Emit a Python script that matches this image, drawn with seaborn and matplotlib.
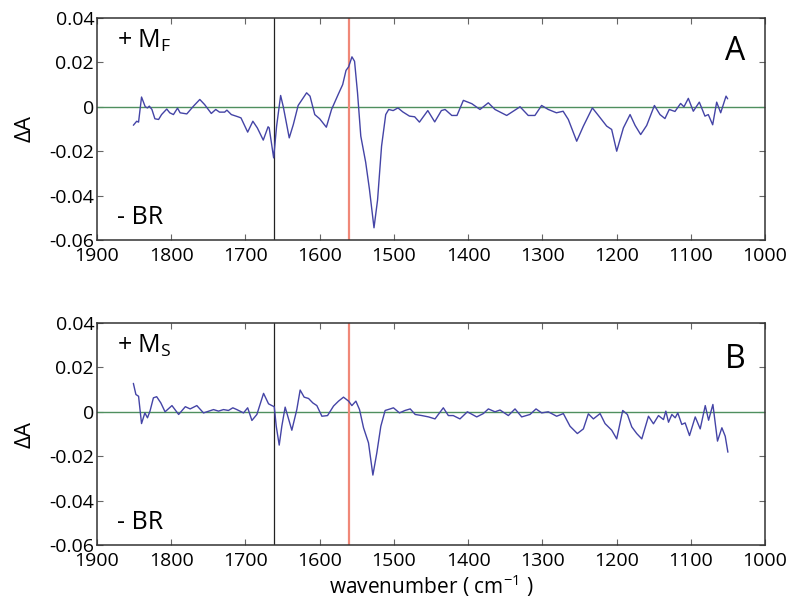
import numpy as np
import pandas as pd
import matplotlib
matplotlib.use("Agg")
import matplotlib.pyplot as plt
import seaborn as sns

# ---------------- data ----------------
wn_a = [1851, 1846.5, 1844, 1840, 1835, 1832, 1829.5, 1826, 1822, 1817, 1813, 1806, 1802,
        1797, 1791.5, 1788, 1779, 1770, 1761.5, 1755, 1746, 1740, 1735, 1728, 1725, 1719,
        1710, 1706, 1697, 1690, 1684, 1676, 1669.5, 1668, 1662, 1658, 1652.6, 1649, 1641,
        1635.5, 1629, 1617.6, 1613, 1606.6, 1600, 1591, 1584, 1575, 1569, 1564.5, 1561,
        1556.5, 1553, 1549, 1544.6, 1538, 1533, 1526.8, 1522, 1516.6, 1511, 1507, 1501,
        1494.5, 1488, 1479, 1472, 1465.6, 1454.3, 1445, 1436, 1431, 1422, 1415, 1406.4,
        1395, 1384, 1372.8, 1363.8, 1348, 1330, 1319, 1310, 1301, 1292, 1281, 1272, 1265,
        1253.7, 1244.7, 1232.6, 1224.5, 1213.3, 1206.6, 1199.8, 1190.8, 1181.8, 1175,
        1167.5, 1159.4, 1149, 1141.5, 1134.8, 1129, 1121.3, 1113.7, 1109.2, 1103.3, 1096.6,
        1088.5, 1080.9, 1076.4, 1070.5, 1065.1, 1059.7, 1052.5, 1050.3]
da_a = [-0.0083, -0.0065, -0.0069, 0.0044, 0.0, -0.0005, 0.0003, -0.0012, -0.0054, -0.0057,
        -0.0035, -0.0010, -0.0027, -0.0035, -0.0006, -0.0027, -0.0032, 0.0003, 0.0033, 0.0010,
        -0.0030, -0.0012, -0.0024, -0.0024, -0.0015, -0.0035, -0.0045, -0.0050, -0.0114,
        -0.0065, -0.0095, -0.0150, -0.0090, -0.0095, -0.0230, -0.0087, 0.0051, 0.0, -0.0140,
        -0.0080, 0.0006, 0.0063, 0.0048, -0.0035, -0.0054, -0.0092, -0.0012, 0.0056, 0.0100,
        0.0164, 0.0180, 0.0225, 0.0205, 0.0063, -0.0132, -0.0250, -0.0370, -0.0545, -0.0420,
        -0.0177, -0.0035, -0.0012, -0.0017, -0.0005, -0.0023, -0.0042, -0.0045, -0.0069,
        -0.0017, -0.0068, -0.0017, -0.0012, -0.0039, -0.0039, 0.0029, 0.0014, -0.0012, 0.0018,
        -0.0012, -0.0039, 0.0, -0.0039, -0.0039, 0.0006, -0.0012, -0.0027, -0.0020, -0.0057,
        -0.0155, -0.0087, -0.0005, -0.0039, -0.0087, -0.0102, -0.0200, -0.0095, -0.0035,
        -0.0084, -0.0125, -0.0084, 0.0006, -0.0035, -0.0053, -0.0012, -0.0021, 0.0015, 0.0,
        0.0038, -0.0020, 0.0021, -0.0042, -0.0035, -0.0081, 0.0021, -0.0027, 0.0048, 0.0036]

wn_b = [1851, 1847.6, 1844, 1840, 1835.5, 1832, 1828.6, 1824, 1819.6, 1814, 1808.3, 1799,
        1790, 1781, 1774.5, 1765.5, 1756.5, 1743, 1736.3, 1729.6, 1722.9, 1717, 1711.6,
        1702.6, 1697, 1691.3, 1684.6, 1675.6, 1668.9, 1664.4, 1661.2, 1658.5, 1654.5, 1651,
        1646.5, 1637.5, 1630.8, 1626.3, 1620.9, 1615, 1609.2, 1603.8, 1597, 1589.4, 1581.3,
        1574.6, 1567.9, 1561, 1556.6, 1551.2, 1546.3, 1540.9, 1534.2, 1528.3, 1523, 1517.6,
        1511.8, 1505, 1500.6, 1492.5, 1485, 1478, 1471.3, 1462.3, 1453.3, 1444.6, 1433.4,
        1426.6, 1420, 1411, 1401, 1388.4, 1379.5, 1372.7, 1363.8, 1357, 1345.8, 1336.8,
        1327.8, 1316.6, 1308.5, 1300.9, 1292, 1280.7, 1271.7, 1262.7, 1252.8, 1244.7, 1238,
        1231.2, 1222.2, 1215.5, 1206.5, 1199.8, 1191.7, 1185.4, 1179.5, 1172.8, 1166, 1157,
        1150.3, 1143.5, 1136.8, 1133.6, 1130, 1125.5, 1121, 1117.5, 1112.1, 1107.6, 1101.7,
        1094, 1087.3, 1080.5, 1076, 1070.2, 1064, 1058.1, 1053.6, 1050]
da_b = [0.0128, 0.0078, 0.0070, -0.0053, -0.0005, -0.0027, 0.0003, 0.0063, 0.0068, 0.0040,
        0.0, 0.0028, -0.0012, 0.0023, 0.0013, 0.0028, -0.0005, 0.0010, 0.0003, 0.0010, 0.0006,
        0.0018, 0.0010, -0.0005, 0.0018, -0.0039, -0.0012, 0.0083, 0.0036, 0.0028, 0.0023,
        -0.0065, -0.0150, -0.0065, 0.0021, -0.0083, 0.0010, 0.0098, 0.0066, 0.0060, 0.0040,
        0.0028, -0.0020, -0.0017, 0.0026, 0.0048, 0.0066, 0.0048, 0.0028, 0.0048, 0.0010,
        -0.0072, -0.0140, -0.0285, -0.0185, -0.0065, 0.0006, 0.0013, 0.0018, -0.0005, 0.0006,
        0.0013, -0.0012, -0.0017, -0.0023, -0.0032, 0.0018, -0.0017, -0.0017, -0.0032, 0.0,
        -0.0023, -0.0008, 0.0013, 0.0, 0.0008, -0.0017, 0.0013, -0.0023, -0.0012, 0.0013,
        -0.0005, 0.0, -0.0020, -0.0008, -0.0065, -0.0098, -0.0077, -0.0009, -0.0032, -0.0008,
        -0.0053, -0.0083, -0.0122, 0.0006, -0.0012, -0.0068, -0.0098, -0.0122, -0.0020,
        -0.0054, -0.0017, -0.0035, 0.0003, -0.0047, -0.0012, -0.0027, -0.0005, -0.0057,
        -0.0050, -0.0107, -0.0023, -0.0077, 0.0028, -0.0038, 0.0033, -0.0132, -0.0072,
        -0.0110, -0.0182]

band_black = 1661
band_red = 1560
x_ticks = [1900, 1800, 1700, 1600, 1500, 1400, 1300, 1200, 1100, 1000]
y_ticks = [0.04, 0.02, 0.0, -0.02, -0.04, -0.06]
y_tick_labels = ["0.04", "0.02", "0", "-0.02", "-0.04", "-0.06"]
panel_letters = ["A", "B"]
plus_sub = ["F", "S"]

# ---------------- style ----------------
sns.set_theme(style="ticks")
plt.rcParams["font.family"] = ["Open Sans", "DejaVu Sans"]
plt.rcParams["mathtext.fontset"] = "custom"
plt.rcParams["mathtext.rm"] = "Open Sans"
plt.rcParams["mathtext.it"] = "Open Sans"
plt.rcParams["text.color"] = "black"
plt.rcParams["axes.labelcolor"] = "black"
plt.rcParams["xtick.color"] = "black"
plt.rcParams["ytick.color"] = "black"

fig = plt.figure(figsize=(7.94, 6.11), dpi=100)
ax_a = fig.add_axes([97 / 794, 1 - 240 / 611, 668 / 794, 222 / 611])
ax_b = fig.add_axes([97 / 794, 1 - 545 / 611, 668 / 794, 222 / 611])

frames = [pd.DataFrame({"wn": wn_a, "dA": da_a}), pd.DataFrame({"wn": wn_b, "dA": da_b})]
letter_y = [0.85, 0.835]

for ax, df, letter, sub, ly in zip([ax_a, ax_b], frames, panel_letters, plus_sub, letter_y):
    ax.axhline(0, color="#4f8f5f", lw=1.0, zorder=1)
    ax.axvline(band_black, color="#222222", lw=0.9, zorder=1)
    ax.axvline(band_red, color="#f08878", lw=1.6, zorder=1)
    sns.lineplot(data=df, x="wn", y="dA", ax=ax, sort=False, color="#4444a6",
                 lw=1.0, estimator=None, zorder=3)
    ax.set_xlim(1900, 1000)
    ax.set_ylim(-0.06, 0.04)
    ax.set_xticks(x_ticks)
    ax.set_xticklabels([str(t) for t in x_ticks])
    ax.set_yticks(y_ticks)
    ax.set_yticklabels(y_tick_labels)
    ax.tick_params(direction="in", length=4, width=0.8, color="#666666",
                   labelsize=14, labelcolor="black", top=True, right=True)
    ax.tick_params(axis="x", pad=5)
    ax.tick_params(axis="y", pad=2)
    for s in ax.spines.values():
        s.set_linewidth(1.1)
        s.set_color("#333333")
    ax.set_ylabel("ΔA", fontsize=16, labelpad=10)
    ax.set_xlabel("")
    ax.text(0.03, 0.895, "+ M$_{\\mathrm{" + sub + "}}$", transform=ax.transAxes,
            fontsize=18, va="center", ha="left")
    ax.text(0.03, 0.10, "- BR", transform=ax.transAxes, fontsize=18, va="center", ha="left")
    ax.text(0.955, ly, letter, transform=ax.transAxes, fontsize=23, va="center", ha="center")

ax_b.set_xlabel("wavenumber ( cm$^{\\mathrm{-1}}$ )", fontsize=15, labelpad=2)

fig.savefig("out.png", dpi=100)
